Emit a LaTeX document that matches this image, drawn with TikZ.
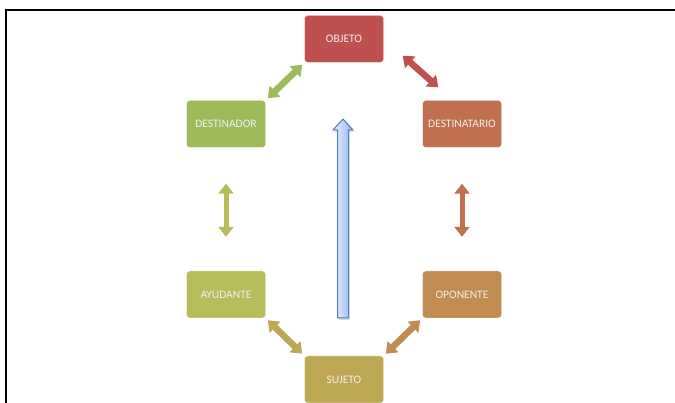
\documentclass[tikz,border=0pt]{standalone}
\usepackage{fontspec}
\setmainfont{Carlito}
\usetikzlibrary{arrows.meta,positioning,shadows}

\definecolor{objetoc}{HTML}{C0504D}
\definecolor{destinatarioc}{HTML}{C0704F}
\definecolor{oponentec}{HTML}{C08C51}
\definecolor{sujetoc}{HTML}{BEA853}
\definecolor{ayudantec}{HTML}{B5BC5A}
\definecolor{destinadorc}{HTML}{9DBB59}
\definecolor{flechaborde}{HTML}{4A7EBB}

\begin{document}
\begin{tikzpicture}[x=1pt,y=1pt,>={Triangle[width=15pt,length=10pt]},on grid,node distance=85pt and 118pt,
			actante/.style={rectangle, rounded corners=3pt, draw=white, line width=0.4pt, minimum width=79pt, minimum height=47pt, text=white!94!black, font=\fontsize{11.5}{13}\selectfont},
			doble/.style={<->, line width=5pt},
			diagonal/.style={line width=6.5pt}]
				\useasboundingbox (0,0) rectangle (675,-403);
				\draw[line width=2pt] (6,-403) -- (6,-10.5) -- (675,-10.5);

				\node[actante, fill=objetoc]        (objeto) at (344,-39)         {OBJETO};
				\node[actante, fill=destinadorc]    (destinador) [below left=of objeto]    {DESTINADOR};
				\node[actante, fill=destinatarioc]  (destinatario) [below right=of objeto]  {DESTINATARIO};
				\node[actante, fill=ayudantec]      (ayudante) [below=170.5pt of destinador]  {AYUDANTE};
				\node[actante, fill=oponentec]      (oponente) [below=170.5pt of destinatario] {OPONENTE};
				\node[actante, fill=sujetoc]        (sujeto) [below right=of ayudante]    {SUJETO};


				\path[doble] (objeto.south west)  edge[diagonal, draw=destinadorc, shorten <=3pt, shorten >=3pt]   (destinador.north east)
							 ([shift={(19pt,7pt)}]objeto.south east)  edge[diagonal, draw=objetoc]   ([shift={(16pt,13pt)}]destinatario.north west)
							 (destinador.south)   edge[draw=ayudantec, shorten <=36pt, shorten >=34pt]  (ayudante.north)
							 (destinatario.south) edge[draw=destinatarioc, shorten <=36pt, shorten >=34pt] (oponente.north)
							 (ayudante.south east) edge[diagonal, draw=sujetoc, shorten <=3pt, shorten >=3pt]   (sujeto.north west)
							 (oponente.south west) edge[diagonal, draw=oponentec, shorten <=3pt, shorten >=3pt]  (sujeto.north east);

				\draw[draw=flechaborde, line width=1pt, left color=blue!5!white, right color={rgb,255:red,140;green,180;blue,238}, drop shadow={opacity=0.3,shadow xshift=1pt,shadow yshift=-2pt}]
					(337.5,-318) -- (337.5,-130) -- (333,-130) -- (343,-119) -- (353,-130) -- (348.5,-130) -- (348.5,-318) -- cycle;

			\end{tikzpicture}
\end{document}
